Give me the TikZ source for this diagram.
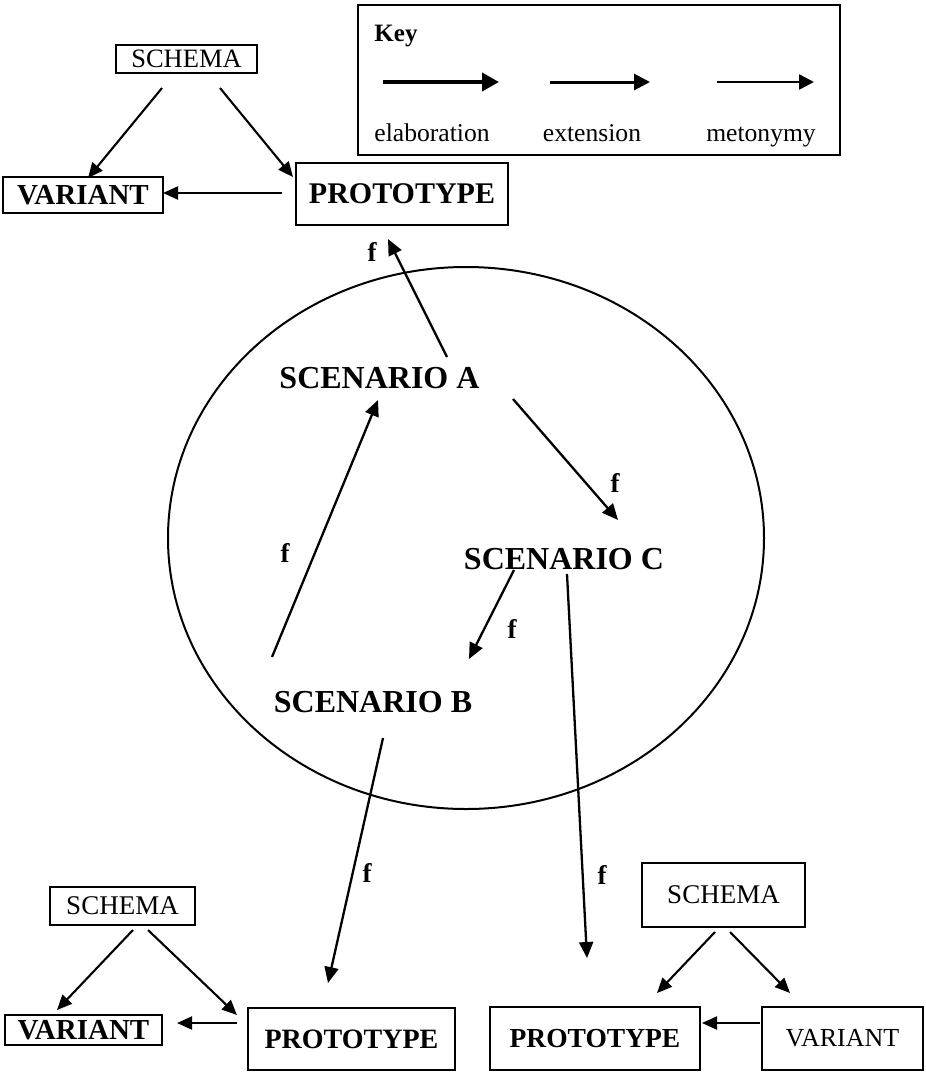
\documentclass[tikz,border=0pt]{standalone}
\usepackage{fontspec}
\setmainfont{Liberation Serif}
\usetikzlibrary{arrows.meta,shapes.geometric}
\begin{document}
\begin{tikzpicture}[x=1pt,y=-1pt,
  box/.style={draw, line width=1.4pt, inner sep=0pt, anchor=center},
  rg/.style={font=\fontsize{#1}{#1}\selectfont},
  bd/.style={font=\fontsize{#1}{#1}\selectfont\bfseries},
  scen/.style={font=\fontsize{32}{32}\selectfont\bfseries, inner sep=0pt},
  flab/.style={font=\fontsize{27}{27}\selectfont\bfseries, inner sep=0pt},
  klab/.style={font=\fontsize{25.6}{25.6}\selectfont, inner sep=0pt, anchor=base},
  arr/.style={line width=2.3pt, -{Triangle[length=16pt,width=14pt]}},
  sarr/.style={line width=2.1pt, -{Triangle[length=15pt,width=13pt]}}]
\useasboundingbox (0,0) rectangle (926,1072);
% key
\node[box, minimum width=482pt, minimum height=150pt] (key) at (599,80) {};
\node[bd=25, inner sep=0pt] (keyt) at (396,36) {Key};
\coordinate (k1a) at (383,82); \coordinate (k1b) at (499,82);
\coordinate (k2a) at (550,82); \coordinate (k2b) at (650,82);
\coordinate (k3a) at (717,82); \coordinate (k3b) at (814,82);
\draw[line width=4pt, -{Triangle[length=17pt,width=18pt]}] (k1a) -- (k1b);
\draw[line width=3pt, -{Triangle[length=16pt,width=16pt]}] (k2a) -- (k2b);
\draw[line width=2.5pt, -{Triangle[length=15pt,width=15pt]}] (k3a) -- (k3b);
\node[klab] (lelab) at (432,141) {elaboration};
\node[klab] (lext) at (592,141) {extension};
\node[klab] (lmet) at (761,141) {metonymy};
% top-left cluster
\node[box, rg=26.5, minimum width=141pt, minimum height=28pt] (schTL) at (186.5,59) {SCHEMA};
\node[box, bd=29, minimum width=160pt, minimum height=36pt] (varTL) at (83,195) {VARIANT};
\node[box, bd=30, minimum width=212pt, minimum height=62pt] (proTL) at (402,194) {PROTOTYPE};
\coordinate (t1) at (162,88); \coordinate (t1e) at (88,178);
\coordinate (t2) at (220,88); \coordinate (t2e) at (293,177);
\coordinate (t3) at (282,193); \coordinate (t3e) at (163,193);
\draw[sarr] (t1) -- (t1e);
\draw[sarr] (t2) -- (t2e);
\draw[sarr] (t3) -- (t3e);
% circle
\node[draw, line width=2pt, ellipse, minimum width=596pt, minimum height=542pt, inner sep=0pt] (circ) at (466,538) {};
% scenarios
\node[scen] (scA) at (379.5,378) {SCENARIO A};
\node[scen] (scC) at (564,559) {SCENARIO C};
\node[scen] (scB) at (373,702) {SCENARIO B};
\coordinate (a1) at (447,357); \coordinate (a1e) at (388,239);
\draw[arr] (a1) -- (a1e);
\node[flab] (f1) at (372,252) {f};
\coordinate (b1) at (272,657); \coordinate (b1e) at (378,400);
\draw[arr] (b1) -- (b1e);
\node[flab] (f2) at (285,553) {f};
\coordinate (c1) at (513,399); \coordinate (c1e) at (618,520);
\draw[arr] (c1) -- (c1e);
\node[flab] (f3) at (615,483) {f};
\coordinate (d1) at (514,570); \coordinate (d1e) at (469,659);
\draw[arr] (d1) -- (d1e);
\node[flab] (f4) at (512,629) {f};
\coordinate (e1) at (383,738); \coordinate (e1e) at (328,983);
\draw[arr] (e1) -- (e1e);
\node[flab] (f5) at (367,873) {f};
\coordinate (g1) at (567,574); \coordinate (g1e) at (587,958);
\draw[arr] (g1) -- (g1e);
\node[flab] (f6) at (602,875) {f};
% bottom-left cluster
\node[box, rg=27, minimum width=145pt, minimum height=38pt] (schBL) at (122.5,906) {SCHEMA};
\node[box, bd=29, minimum width=157pt, minimum height=30pt] (varBL) at (83.5,1030) {VARIANT};
\node[box, bd=28, minimum width=207pt, minimum height=62pt] (proBL) at (351.5,1039) {PROTOTYPE};
\coordinate (h1) at (133,930); \coordinate (h1e) at (57,1010);
\coordinate (h2) at (148,930); \coordinate (h2e) at (237,1015);
\coordinate (h3) at (237,1023); \coordinate (h3e) at (177,1023);
\draw[sarr] (h1) -- (h1e);
\draw[sarr] (h2) -- (h2e);
\draw[sarr] (h3) -- (h3e);
% bottom-right cluster
\node[box, rg=27, minimum width=163pt, minimum height=64pt] (schBR) at (723.5,895) {SCHEMA};
\node[box, bd=27.5, minimum width=210pt, minimum height=63pt] (proBR) at (595,1038.5) {PROTOTYPE};
\node[box, rg=26, minimum width=161pt, minimum height=63pt] (varBR) at (842.5,1038.5) {VARIANT};
\coordinate (i1) at (715,932); \coordinate (i1e) at (657,993);
\coordinate (i2) at (730,932); \coordinate (i2e) at (790,993);
\coordinate (i3) at (760,1023); \coordinate (i3e) at (702,1023);
\draw[sarr] (i1) -- (i1e);
\draw[sarr] (i2) -- (i2e);
\draw[sarr] (i3) -- (i3e);
\end{tikzpicture}
\end{document}
